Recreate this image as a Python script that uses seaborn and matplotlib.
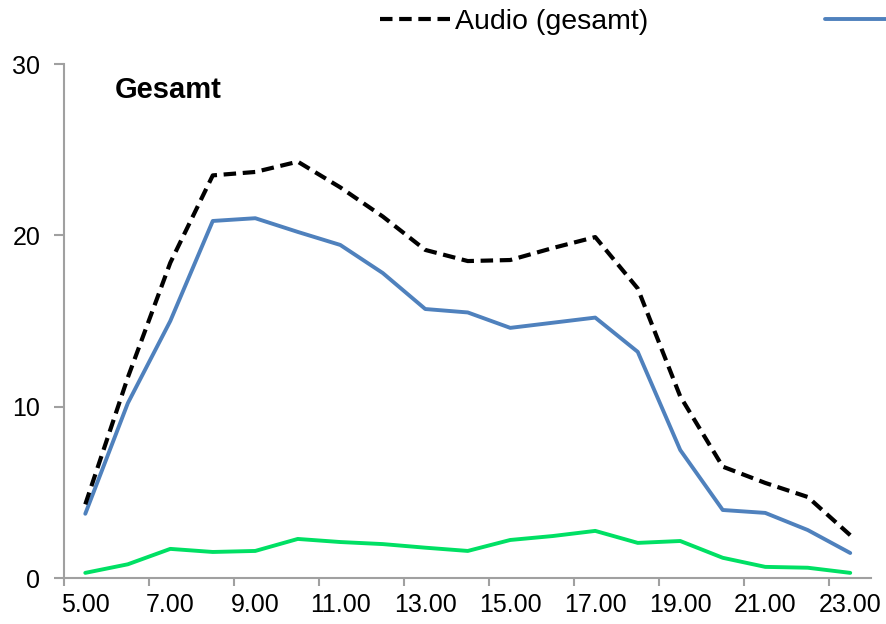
import numpy as np
import pandas as pd
import seaborn as sns
import matplotlib.pyplot as plt
from matplotlib.lines import Line2D
from matplotlib.ticker import FixedLocator

# hourly values (Gesamt)
hours = ["5.00", "6.00", "7.00", "8.00", "9.00", "10.00", "11.00", "12.00", "13.00", "14.00",
         "15.00", "16.00", "17.00", "18.00", "19.00", "20.00", "21.00", "22.00", "23.00"]
audio_gesamt = [4.3, 11.7, 18.4, 23.5, 23.7, 24.3, 22.8, 21.1, 19.15, 18.5,
                18.56, 19.26, 19.9, 16.9, 10.6, 6.5, 5.55, 4.73, 2.5]
blue_series = [3.75, 10.2, 15.0, 20.84, 21.0, 20.2, 19.44, 17.8, 15.7, 15.5,
               14.6, 14.9, 15.2, 13.2, 7.47, 3.97, 3.8, 2.8, 1.46]
green_series = [0.3, 0.8, 1.7, 1.52, 1.58, 2.28, 2.1, 1.98, 1.77, 1.58,
                2.22, 2.45, 2.75, 2.05, 2.16, 1.18, 0.65, 0.6, 0.3]

sns.set_style("white")
plt.rcParams['font.family'] = ['Liberation Sans', 'DejaVu Sans']
plt.rcParams['text.color'] = 'black'

df = pd.DataFrame({
    'pos': np.arange(len(hours)),
    'audio': audio_gesamt,
    'blue': blue_series,
    'green': green_series,
})

fig = plt.figure(figsize=(8.87, 6.24), dpi=100)
ax = fig.add_axes([0.0722, 0.0737, 0.9103, 0.8237])

blue_col = "#4F81BD"
green_col = "#00E064"
dash_style = (3, 1.6)

sns.lineplot(data=df, x='pos', y='green', ax=ax, color=green_col, linewidth=2.8)
sns.lineplot(data=df, x='pos', y='blue', ax=ax, color=blue_col, linewidth=2.8)
sns.lineplot(data=df, x='pos', y='audio', ax=ax, color='black', linewidth=3.0)
ax.lines[-1].set_dashes(dash_style)

ax.set_xlim(-0.5, len(hours) - 0.5)
ax.set_ylim(0, 30)
ax.set_xlabel("")
ax.set_ylabel("")

# labels centred on every other category, tick marks on category borders
ax.set_xticks(np.arange(0, len(hours), 2))
ax.set_xticklabels(hours[::2])
ax.xaxis.set_minor_locator(FixedLocator(np.arange(-0.5, len(hours) - 1, 2)))
ax.tick_params(axis='x', which='major', length=0, pad=11, labelsize=18, labelcolor='black')
ax.tick_params(axis='x', which='minor', length=6, width=1.5, color='#A0A0A0', bottom=True)
ax.set_yticks([0, 10, 20, 30])
ax.tick_params(axis='y', length=7, width=1.5, color='#A0A0A0', labelsize=18, pad=10,
               left=True, labelcolor='black')

for side in ['top', 'right']:
    ax.spines[side].set_visible(False)
for side in ['left', 'bottom']:
    ax.spines[side].set_color('#A0A0A0')
    ax.spines[side].set_linewidth(1.5)

ax.text(0.063, 0.95, "Gesamt", transform=ax.transAxes, fontsize=21, fontweight='bold',
        ha='left', va='center', color='black')

handles = [Line2D([], [], color='black', linewidth=3.0, dashes=dash_style),
           Line2D([], [], color=blue_col, linewidth=2.8)]
fig.legend(handles, ["Audio (gesamt)", ""], loc='center left',
           bbox_to_anchor=(0.4284, 0.964), ncol=2, frameon=False, fontsize=20.5,
           handlelength=2.5, handletextpad=0.15, columnspacing=6.2,
           borderpad=0, borderaxespad=0)

fig.savefig("out.png", dpi=100)
